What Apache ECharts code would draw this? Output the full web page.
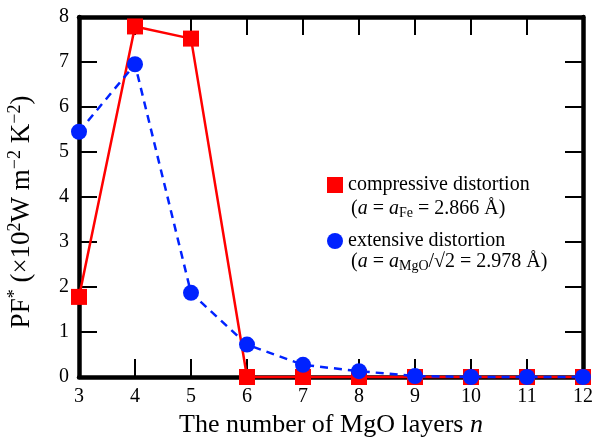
<!DOCTYPE html>
<html>
<head>
<meta charset="utf-8">
<script src="https://cdn.jsdelivr.net/npm/echarts@6/dist/echarts.min.js"></script>
<style>
  html, body { margin: 0; padding: 0; background: #fff; }
  #chart { width: 593px; height: 439px; }
</style>
</head>
<body>
<div id="chart"></div>
<script>
// MgO layer count
const layers = [3, 4, 5, 6, 7, 8, 9, 10, 11, 12];
// PF* values, x10^2 W m^-2 K^-2
const compressive = [1.78, 7.79, 7.52, 0, 0, 0, 0, 0, 0, 0];
const extensive = [5.45, 6.95, 1.87, 0.72, 0.27, 0.13, 0.02, 0, 0, 0];
const xTicks = [3, 12, 1];
const yTicks = [0, 8, 1];

const font = 'Liberation Serif';
var myChart = echarts.init(document.getElementById('chart'));

const frameAxis = (extra) => Object.assign({
	type: 'value',
	axisLine: { show: true, onZero: false, lineStyle: { color: '#000', width: 4.5 } },
	axisTick: { show: true, inside: true, length: 18, lineStyle: { color: '#000', width: 2 } },
	splitLine: { show: false },
	axisLabel: { show: false },
}, extra);

const txt = { fontFamily: font, color: '#000' };

var option = {
	animation: false,
	grid: { left: 79, right: 10, top: 17, bottom: 62, containLabel: false, outerBoundsMode: 'none' },
	xAxis: [
		frameAxis({
			min: xTicks[0], max: xTicks[1], interval: xTicks[2],
			position: 'bottom',
			axisLabel: { show: true, ...txt, fontSize: 20, margin: 10 },
			name: '{t|The number of MgO layers }{i|n}',
			nameLocation: 'middle',
			nameGap: 32,
			nameTextStyle: {
				rich: {
					t: { ...txt, fontSize: 26 },
					i: { ...txt, fontSize: 26, fontStyle: 'italic' },
				},
			},
		}),
		frameAxis({ min: xTicks[0], max: xTicks[1], interval: xTicks[2], position: 'top' }),
	],
	yAxis: [
		frameAxis({
			min: yTicks[0], max: yTicks[1], interval: yTicks[2],
			position: 'left',
			axisLabel: { show: true, ...txt, fontSize: 20, margin: 10 },
			name: '{t|PF}{s|*}{t| (×10}{s|2}{t|W m}{s|−2}{t| K}{s|−2}{t|)}',
			nameLocation: 'middle',
			nameGap: 42,
			nameTextStyle: {
				padding: [0, 30, 0, 0],
				rich: {
					t: { ...txt, fontSize: 27 },
					s: { ...txt, fontSize: 18, padding: [0, 0, 13, 0] },
				},
			},
		}),
		frameAxis({ min: yTicks[0], max: yTicks[1], interval: yTicks[2], position: 'right' }),
	],
	legend: {
		orient: 'vertical',
		left: 327,
		top: 175,
		padding: 0,
		itemWidth: 16,
		itemHeight: 16,
		itemGap: 36,
		textStyle: { ...txt, fontSize: 20 },
		data: [
			{ name: 'compressive distortion', icon: 'rect', itemStyle: { color: '#ff0000' } },
			{ name: 'extensive distortion', icon: 'circle', itemStyle: { color: '#0022ff' } },
		],
	},
	graphic: [
		{
			type: 'text', left: 351, top: 199,
			style: {
				text: '({i|a} = {i|a}{s|Fe} = 2.866 Å)',
				...txt, fill: '#000', fontSize: 20,
				rich: {
					i: { ...txt, fontSize: 20, fontStyle: 'italic' },
					s: { ...txt, fontSize: 14, padding: [8, 0, 0, 0] },
				},
			},
		},
		{
			type: 'text', left: 351, top: 252,
			style: {
				text: '({i|a} = {i|a}{s|MgO}/√2 = 2.978 Å)',
				...txt, fill: '#000', fontSize: 20,
				rich: {
					i: { ...txt, fontSize: 20, fontStyle: 'italic' },
					s: { ...txt, fontSize: 14, padding: [8, 0, 0, 0] },
				},
			},
		},
	],
	series: [
		{
			name: 'compressive distortion',
			type: 'line',
			data: layers.map((x, i) => [x, compressive[i]]),
			symbol: 'rect',
			symbolSize: 16,
			clip: false,
			lineStyle: { color: '#ff0000', width: 2.5 },
			itemStyle: { color: '#ff0000' },
			z: 3,
		},
		{
			name: 'extensive distortion',
			type: 'line',
			data: layers.map((x, i) => [x, extensive[i]]),
			symbol: 'circle',
			symbolSize: 16,
			clip: false,
			lineStyle: { color: '#0022ff', width: 2.5, type: [8, 6] },
			itemStyle: { color: '#0022ff' },
			z: 4,
		},
	],
};

option && myChart.setOption(option);
</script>
</body>
</html>
